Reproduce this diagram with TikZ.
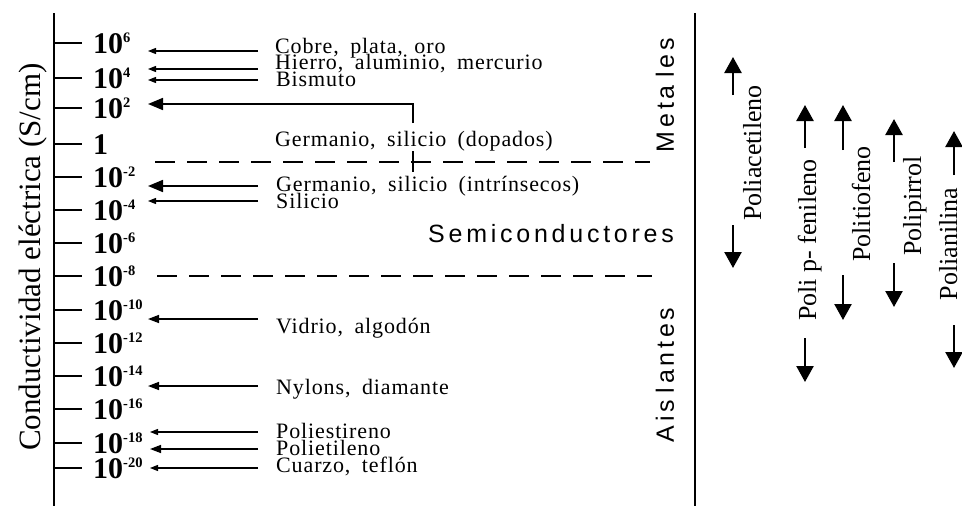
\documentclass[tikz,border=0pt]{standalone}
\usepackage{fontspec}
\setmainfont{Liberation Serif}
\newfontfamily\lblfont[LetterSpace=4,WordSpace=1.8]{Liberation Serif}
\newfontfamily\catfont[LetterSpace=15]{Liberation Sans}
\usetikzlibrary{arrows.meta}
\newcommand\expo[1]{\raisebox{10.5pt}{\fontsize{14.5}{14.5}\selectfont\bfseries #1}}
\begin{document}
\begin{tikzpicture}[x=1pt,y=-1pt,
  axisline/.style={line width=2.6pt},
  tickline/.style={line width=2.6pt},
  dashline/.style={line width=2pt, dash pattern=on 20pt off 12pt},
  smallarrow/.style={line width=1.2pt, -{Triangle[length=8pt,width=6pt]}},
  midarrow/.style={line width=1.4pt, -{Triangle[length=11pt,width=8pt]}},
  bigarrow/.style={line width=1.7pt, -{Triangle[length=15pt,width=12pt]}},
  polyarrow/.style={line width=2.4pt, -{Triangle[length=16pt,width=17pt]}},
  ticklbl/.style={anchor=base west, inner sep=0pt, font=\fontsize{30}{30}\selectfont\bfseries},
  matlbl/.style={anchor=base west, inner sep=0pt, font=\fontsize{22}{22}\lblfont},
  catlbl/.style={inner sep=0pt, font=\fontsize{25}{25}\catfont},
  axislbl/.style={rotate=90, anchor=base, inner sep=0pt, font=\fontsize{31}{31}\selectfont},
  polylbl/.style={rotate=90, anchor=base, inner sep=0pt, font=\fontsize{26}{26}\selectfont},
]
\useasboundingbox (0,0) rectangle (962,506);

% axes
\coordinate (axtop) at (54,13);
\coordinate (axbot) at (54,506);
\draw[axisline] (axtop) -- (axbot);
\coordinate (rtop) at (695,13);
\coordinate (rbot) at (695,506);
\draw[axisline] (rtop) -- (rbot);

% ticks and labels
\foreach \y/\t [count=\i] in {43/10\expo{6}, 78/10\expo{4}, 108/10\expo{2}, 144/1,
  177/10\expo{-2}, 210/10\expo{-4}, 243/10\expo{-6}, 276/10\expo{-8},
  310/10\expo{-10}, 343/10\expo{-12}, 376/10\expo{-14}, 409/10\expo{-16},
  443/10\expo{-18}, 468/10\expo{-20}}{
  \draw[tickline] (54,\y) -- (82,\y);
  \node[ticklbl] (t\i) at (93,\y+10) {\t};
}

\node[axislbl] (axlbl) at (40,257) {Conductividad eléctrica (S/cm)};

% dashed boundaries
\coordinate (d1a) at (155,162); \coordinate (d1b) at (650,162);
\coordinate (d2a) at (157,276); \coordinate (d2b) at (652,276);
\draw[dashline] (d1a) -- (d1b);
\draw[dashline] (d2a) -- (d2b);

% material labels
\node[matlbl] (cobre) at (275,53) {Cobre, plata, oro};
\node[matlbl] (hierro) at (275,69) {Hierro, aluminio, mercurio};
\node[matlbl] (bism) at (276,86) {Bismuto};
\node[matlbl] (gdop) at (275,146) {Germanio, silicio (dopados)};
\node[matlbl] (gint) at (276,191) {Germanio, silicio (intrínsecos)};
\node[matlbl] (sil) at (276,208) {Silicio};
\node[matlbl] (vid) at (276,333) {Vidrio, algodón};
\node[matlbl] (nyl) at (276,394) {Nylons, diamante};
\node[matlbl] (pest) at (276,438) {Poliestireno};
\node[matlbl] (petl) at (276,455) {Polietileno};
\node[matlbl] (cuar) at (276,472) {Cuarzo, teflón};

% arrows
\coordinate (a1s) at (258,51); \coordinate (a1e) at (148,51);
\coordinate (a2s) at (258,69); \coordinate (a2e) at (148,69);
\coordinate (a3s) at (258,80); \coordinate (a3e) at (148,80);
\coordinate (a4s) at (413,123); \coordinate (a4m) at (413,104); \coordinate (a4e) at (148,104);
\coordinate (a4p) at (413,151); \coordinate (a4q) at (413,172);
\coordinate (a5s) at (258,186); \coordinate (a5e) at (148,186);
\coordinate (a6s) at (258,201); \coordinate (a6e) at (148,201);
\coordinate (a7s) at (258,319); \coordinate (a7e) at (148,319);
\coordinate (a8s) at (258,386); \coordinate (a8e) at (148,386);
\coordinate (a9s) at (258,432); \coordinate (a9e) at (150,432);
\coordinate (a10s) at (258,449); \coordinate (a10e) at (150,449);
\coordinate (a11s) at (258,468); \coordinate (a11e) at (150,468);
\draw[smallarrow] (a1s) -- (a1e);
\draw[smallarrow] (a2s) -- (a2e);
\draw[smallarrow] (a3s) -- (a3e);
\draw[bigarrow] (a4s) -- (a4m) -- (a4e);
\draw[line width=1.7pt] (a4p) -- (a4q);
\draw[bigarrow] (a5s) -- (a5e);
\draw[smallarrow] (a6s) -- (a6e);
\draw[midarrow] (a7s) -- (a7e);
\draw[midarrow] (a8s) -- (a8e);
\draw[smallarrow] (a9s) -- (a9e);
\draw[midarrow] (a10s) -- (a10e);
\draw[smallarrow] (a11s) -- (a11e);

% categories
\node[catlbl, anchor=base west] (semi) at (428,242) {Semiconductores};
\node[catlbl, rotate=90] (met) at (665,95) {Meta\kern8pt les};
\node[catlbl, rotate=90] (ais) at (665,375) {Ais\kern7pt lantes};

% polymers
\node[polylbl] (pac) at (761,153) {Poliacetileno};
\node[polylbl] (ppf) at (816,240) {Poli p- fenileno};
\node[polylbl] (pti) at (870,204) {Politiofeno};
\node[polylbl] (ppi) at (921,206) {Polipirrol};
\node[polylbl] (pan) at (957,244) {Polianilina};

\coordinate (pac1) at (733,95);  \coordinate (pac2) at (733,57);
\coordinate (pac3) at (733,225); \coordinate (pac4) at (733,268);
\coordinate (ppf1) at (805,148); \coordinate (ppf2) at (805,105);
\coordinate (ppf3) at (805,338); \coordinate (ppf4) at (805,382);
\coordinate (pti1) at (843,150); \coordinate (pti2) at (843,105);
\coordinate (pti3) at (843,275); \coordinate (pti4) at (843,320);
\coordinate (ppi1) at (894,162); \coordinate (ppi2) at (894,119);
\coordinate (ppi3) at (894,263); \coordinate (ppi4) at (894,307);
\coordinate (pan1) at (954,175); \coordinate (pan2) at (954,131);
\coordinate (pan3) at (954,325); \coordinate (pan4) at (954,368);
\foreach \p in {pac,ppf,pti,ppi,pan}{
  \draw[polyarrow] (\p1) -- (\p2);
  \draw[polyarrow] (\p3) -- (\p4);
}
\end{tikzpicture}
\end{document}
